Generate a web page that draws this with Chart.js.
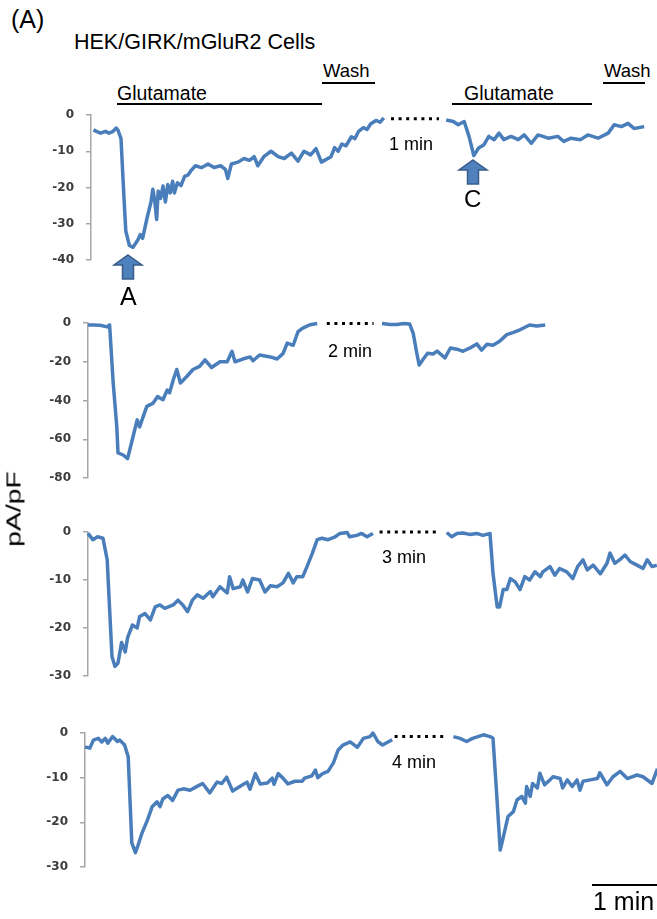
<!DOCTYPE html>
<html>
<head>
<meta charset="utf-8">
<title>HEK/GIRK/mGluR2 Cells</title>
<script src="https://cdn.jsdelivr.net/npm/chart.js"></script>
<style>
  html, body { margin: 0; padding: 0; background: #fff; }
  #fig { position: relative; width: 657px; height: 919px; overflow: hidden;
         font-family: "Liberation Sans", Arial, sans-serif; color: #000; }
  #fig canvas { position: absolute; left: 0; }
  .txt { position: absolute; white-space: nowrap; line-height: 1; }
  .bar { position: absolute; height: 2px; background: #000; }
  .arrow { position: absolute; overflow: visible; }
</style>
</head>
<body>
<div id="fig">
  <div class="txt" style="left:11px; top:7px; font-size:25px;">(A)</div>
  <div class="txt" style="left:74px; top:32px; font-size:21.5px;">HEK/GIRK/mGluR2 Cells</div>

  <div class="txt" style="left:117px; top:84px; font-size:19.5px;">Glutamate</div>
  <div class="bar" style="left:117px; top:103px; width:205px;"></div>
  <div class="txt" style="left:323px; top:62px; font-size:18.5px;">Wash</div>
  <div class="bar" style="left:322px; top:82px; width:53px;"></div>
  <div class="txt" style="left:464px; top:84px; font-size:19.5px;">Glutamate</div>
  <div class="bar" style="left:452px; top:103px; width:140px;"></div>
  <div class="txt" style="left:604px; top:62px; font-size:18.5px;">Wash</div>
  <div class="bar" style="left:603px; top:82px; width:42px;"></div>

  <canvas id="panel1" width="657" height="185" style="top:95px;"></canvas>
  <canvas id="panel2" width="657" height="195" style="top:303px;"></canvas>
  <canvas id="panel3" width="657" height="184" style="top:512px;"></canvas>
  <canvas id="panel4" width="657" height="174" style="top:713px;"></canvas>

  <div class="txt" style="left:389px; top:135px; font-size:18px;">1 min</div>
  <div class="txt" style="left:328px; top:342px; font-size:18px;">2 min</div>
  <div class="txt" style="left:382px; top:548px; font-size:18px;">3 min</div>
  <div class="txt" style="left:392px; top:753px; font-size:18px;">4 min</div>

  <svg class="arrow" style="left:113px; top:254px;" width="30" height="26">
    <polygon points="15,1 29,11 20.5,11 20.5,25 9.5,25 9.5,11 1,11" fill="#4f81bd" stroke="#385d8a" stroke-width="1.5"/>
  </svg>
  <div class="txt" style="left:120px; top:284px; font-size:25px;">A</div>
  <svg class="arrow" style="left:458px; top:159px;" width="30" height="26">
    <polygon points="15,1 29,11 20.5,11 20.5,25 9.5,25 9.5,11 1,11" fill="#4f81bd" stroke="#385d8a" stroke-width="1.5"/>
  </svg>
  <div class="txt" style="left:464px; top:187px; font-size:24px;">C</div>

  <div class="txt" style="left:13px; top:509px; font-size:21px; transform: translate(-50%, -50%) rotate(-90deg) scaleX(1.35); transform-origin: center;">pA/pF</div>

  <div class="bar" style="left:592px; top:884px; width:70px;"></div>
  <div class="txt" style="left:593px; top:889px; font-size:25px;">1 min</div>
</div>

<script>
// time in seconds (from each panel's y axis), current density in pA/pF
// ---- panel 1 (first pair of glutamate applications, 1 min apart)
const p1Ticks = [0, -10, -20, -30, -40];
const p1aT = [2, 5, 8, 12, 15, 18, 21, 22.5, 25, 27.5, 29, 32, 35, 39, 41, 43, 45, 47, 50, 51.5, 53, 54.7, 56, 58, 60, 62, 64, 66, 68, 69.5, 72, 75, 78, 81, 83, 87, 92, 95, 97.5, 102.5, 108, 112, 114, 117, 122.5, 127.5, 132, 136, 139, 144, 150, 156, 161, 167, 172.5, 177.5, 183, 187.5, 192, 200, 203, 206, 209, 212.5, 217, 220, 223, 227, 230, 233, 237.5, 241, 244];
const p1aV = [-4.1, -4.6, -5, -4.5, -5, -4.6, -3.6, -4.2, -6.5, -23, -32, -36, -36.5, -34.5, -33, -34, -31, -28, -24, -20.5, -23.3, -28.8, -21, -23, -19.6, -24, -19.2, -21.5, -18.3, -21.5, -18.7, -19.5, -16.9, -16.5, -15.5, -14, -14.5, -14, -13.5, -14.5, -14, -15, -17.5, -13.5, -13, -12, -12.5, -11.5, -14, -11.5, -10, -11.5, -12, -10.5, -12.7, -10, -11, -9.3, -13, -11.5, -9, -10, -8, -8.5, -6, -6.5, -4.5, -3.5, -4, -2.5, -1.5, -2, -0.8];
const p1GapT = [250, 290];
const p1GapV = [-1, -1];
const p1bT = [296, 302, 306, 311, 315, 319, 323, 327.5, 331.5, 336, 340, 344, 350, 356, 361, 367, 372.5, 381, 389, 394, 400, 408, 414, 422.5, 431, 436, 442, 447.5, 452.5, 461];
const p1bV = [-1.4, -1.8, -2.7, -1.8, -5.9, -11.2, -9.1, -8.2, -5.9, -6.8, -5, -6.8, -5.9, -6.8, -5.5, -7.8, -5.5, -6.4, -5.9, -7.3, -6.4, -6.8, -5.5, -6.4, -5, -2.7, -3.2, -2.3, -3.7, -3.2];

// ---- panel 2 (2 min interval)
const p2Ticks = [0, -20, -40, -60, -80];
const p2aT = [0, 5, 10, 16, 18, 21, 24, 25, 29, 33, 37, 41, 43, 49, 54, 58, 62.5, 66, 68, 71, 74, 77, 82.5, 87.5, 93, 97.5, 103, 110, 116, 120, 122.5, 129, 135, 137.5, 143, 152, 157.5, 162.5, 166, 171, 175, 179, 185, 191];
const p2aV = [-1, -1, -1.2, -2, -1, -31, -53.6, -67, -68, -70, -60, -50, -53.6, -43, -41.5, -38, -39.6, -34.6, -36, -29.4, -24, -31, -27.5, -24, -22.4, -19, -23, -20, -20, -14.6, -20, -18.6, -17.5, -19.5, -16.5, -17.5, -18.6, -15.8, -10.4, -11.5, -4.5, -2.6, -0.9, -0.3];
const p2GapT = [199, 238];
const p2GapV = [-0.3, -0.3];
const p2bT = [245, 252, 257.5, 263, 268, 271, 274, 276, 279, 283, 287.5, 291, 293, 297.5, 302, 307.5, 312.5, 318, 324, 328, 332.5, 337.5, 343, 349, 354, 360, 368, 374, 381];
const p2bV = [-0.3, -0.8, -0.8, -0.3, -0.5, -5.3, -15.6, -21.7, -19, -15.6, -16, -14.5, -15.6, -18, -12.9, -13.5, -14.6, -13, -10.8, -14, -11, -11.5, -9.4, -6, -5, -3.5, -1, -1.5, -1];

// ---- panel 3 (3 min interval)
const p3Ticks = [0, -10, -20, -30];
const p3aT = [0, 4, 8, 12.5, 16, 18, 20, 22.5, 25, 28, 31, 33, 37, 41, 43, 47.5, 52, 56, 60, 64, 71, 75, 79, 83, 87, 91, 96, 102, 104, 110, 116, 118, 121, 127, 129, 133, 137, 143, 147.5, 152, 157.5, 162.5, 167, 171, 174, 179, 182.5, 187, 191, 195, 200, 206, 210, 216, 218, 224, 228, 232.5, 237.5];
const p3aV = [-0.3, -1.6, -1, -1.3, -5.8, -16, -26, -28, -27.3, -23, -25, -22, -19.4, -20, -17.6, -17, -18.3, -15.6, -15.2, -15.9, -15.2, -14.2, -15.2, -16.6, -14.2, -13.1, -13.8, -12.4, -13.5, -11.4, -12.7, -9.3, -11.8, -11.4, -10, -12.5, -9.7, -10, -12.5, -11.2, -11.4, -10.6, -8.6, -10.6, -9.3, -9.3, -7.2, -4.4, -1.6, -1.3, -1.6, -1, -0.3, -0.1, -1, -0.7, -0.3, -1, -0.3];
const p3GapT = [243, 291];
const p3GapV = [0, 0];
const p3bT = [299, 303, 307.5, 312.5, 318, 324, 329, 335, 337.5, 341, 343, 346, 349, 352, 356, 360, 364, 368, 372.5, 377, 379, 385, 389, 393, 399, 404, 408, 412.5, 416, 421, 427, 432.5, 435, 439, 443, 447.5, 452, 457.5, 462.5, 466, 470, 474];
const p3bV = [-0.1, -1, -0.3, -0.2, -0.5, -0.3, -0.7, -0.3, -8.6, -15.6, -15.6, -12, -12, -9.7, -10.4, -12, -9.3, -10, -8.3, -9.3, -8.3, -7.2, -9, -7.6, -8.3, -9.7, -7.2, -5.8, -7.9, -6.9, -8.7, -6.5, -4.4, -6.5, -5.8, -4.8, -6.2, -6.9, -7.6, -5.8, -7.2, -6.9];

// ---- panel 4 (4 min interval)
const p4Ticks = [0, -10, -20, -30];
const p4aT = [0, 4, 7, 11, 14, 17, 19, 23, 27, 29, 33, 36, 37.5, 39, 42, 44, 47.5, 52, 56, 60, 62.5, 65, 69, 73, 77.5, 82, 87.5, 93, 98, 104, 110, 114, 118, 123, 129, 135, 137.5, 142, 146, 152, 156, 157.5, 161, 165, 169, 175, 181, 183, 189, 192, 194, 198, 202.5, 207, 211, 215, 221, 227, 232, 237.5, 240, 244, 248, 256];
const p4aV = [-3.1, -3.4, -1.6, -1.2, -2, -1.2, -2.3, -0.8, -1.9, -1.6, -2.7, -5.3, -15, -24.6, -26.8, -25.3, -22.4, -19.5, -16.5, -15.4, -16.5, -14.7, -14, -15.1, -12.8, -12.5, -12.8, -12, -11.3, -13.4, -11, -11.3, -9.9, -13, -12, -11, -12.6, -9.1, -11.4, -11.2, -10.1, -11.5, -9.1, -10.1, -11.4, -10.8, -10.8, -10.1, -9.6, -8.3, -10, -9.1, -8.6, -6.7, -3.8, -2.7, -2, -3.2, -1.2, -0.8, 0, -1.9, -2.7, -1.5];
const p4GapT = [258, 302];
const p4GapV = [-0.8, -0.8];
const p4bT = [307, 312.5, 318, 323, 332, 337.5, 340, 343, 346, 348, 352.5, 357, 360, 364, 367, 368, 371, 373, 377, 379, 383, 387.5, 390, 396, 398, 402, 406, 410, 412.5, 415, 421, 427, 429, 435, 440, 446, 452, 460, 465, 472.5, 477];
const p4bV = [-0.8, -1.2, -1.9, -1.2, -0.4, -0.8, -1.2, -13.4, -26.2, -24, -18.7, -17.6, -15, -14.2, -15.7, -12, -14.2, -11.3, -12.3, -9, -11.6, -10.5, -9.8, -10.2, -12.3, -10.5, -12, -10.5, -12.8, -10.8, -10.5, -10.2, -8.9, -11.6, -9.8, -8.6, -10.2, -9.4, -9.8, -11.3, -8];

const TRACE_COLOR = '#4a7ebb';
const AXIS_COLOR = '#a6a6a6';
const PX_PER_SEC = 1.2;   // horizontal scale of the figure (1 min = 72 px)
const FIG_WIDTH = 657;
const PAD = 20;           // keeps the plot area fixed, tick labels need ~19px

function pts(times, values) {
    return times.map((t, i) => ({ x: t, y: values[i] }));
}

function traceSet(times, values) {
    return {
        data: pts(times, values),
        borderColor: TRACE_COLOR,
        borderWidth: 3.5,
        borderJoinStyle: 'round',
        pointRadius: 0,
        tension: 0,
        clip: false
    };
}

function gapSet(times, values) {
    return {
        data: pts(times, values),
        borderColor: '#000',
        borderWidth: 3,
        borderDash: [3, 4.6],
        borderCapStyle: 'butt',
        pointRadius: 0,
        clip: false
    };
}

function makePanel(id, axisX, ticks, segA, gap, segB) {
    const ctx = document.getElementById(id).getContext('2d');
    return new Chart(ctx, {
        type: 'line',
        data: {
            datasets: [traceSet(segA[0], segA[1]), gapSet(gap[0], gap[1]), traceSet(segB[0], segB[1])]
        },
        options: {
            responsive: false,
            animation: false,
            devicePixelRatio: 1,
            layout: { padding: { top: PAD, bottom: PAD, left: 0, right: 0 } },
            plugins: { legend: { display: false }, tooltip: { enabled: false } },
            scales: {
                x: { type: 'linear', display: false, min: 0, max: (FIG_WIDTH - axisX) / PX_PER_SEC },
                y: {
                    min: Math.min(...ticks),
                    max: Math.max(...ticks),
                    afterBuildTicks: s => { s.ticks = ticks.map(v => ({ value: v })); },
                    afterFit: s => { s.width = axisX; },
                    ticks: {
                        color: '#3c3c3c',
                        padding: 12,
                        font: { family: 'DejaVu Sans', size: 12, weight: 'bold' }
                    },
                    grid: { drawOnChartArea: false, drawTicks: true, tickLength: 5, color: AXIS_COLOR, lineWidth: 1.5 },
                    border: { color: AXIS_COLOR, width: 1.5 }
                }
            }
        }
    });
}

makePanel('panel1', 91, p1Ticks, [p1aT, p1aV], [p1GapT, p1GapV], [p1bT, p1bV]);
makePanel('panel2', 88, p2Ticks, [p2aT, p2aV], [p2GapT, p2GapV], [p2bT, p2bV]);
makePanel('panel3', 88, p3Ticks, [p3aT, p3aV], [p3GapT, p3GapV], [p3bT, p3bV]);
makePanel('panel4', 85, p4Ticks, [p4aT, p4aV], [p4GapT, p4GapV], [p4bT, p4bV]);
</script>
</body>
</html>
